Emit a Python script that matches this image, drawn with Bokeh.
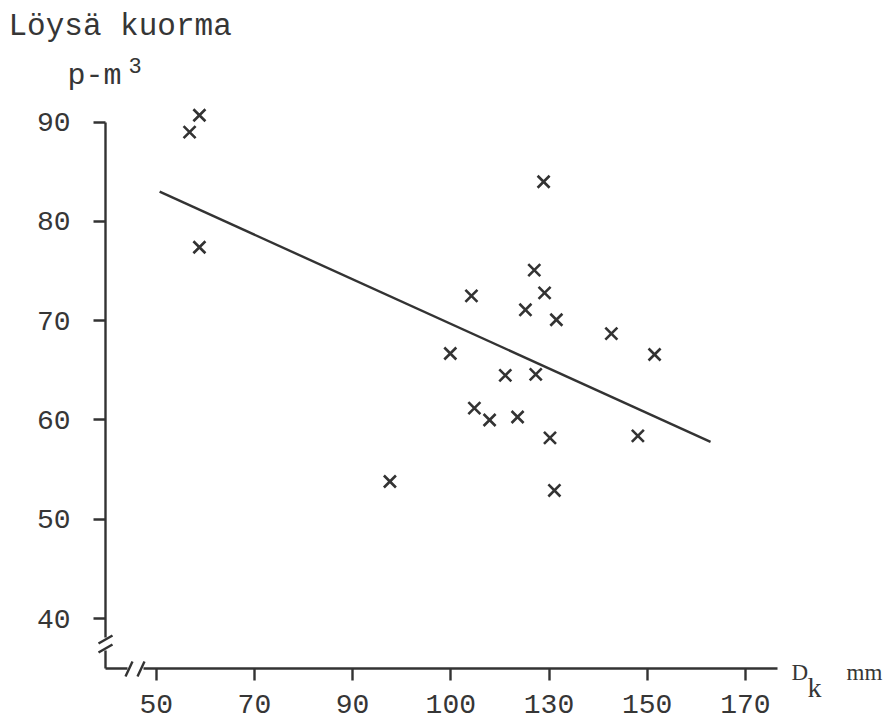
from bokeh.plotting import figure
from bokeh.models import Range1d, FixedTicker, Label
from bokeh.embed import file_html
from bokeh.resources import INLINE

# ---- data ----
d_k = [56.8, 58.8, 58.8, 97.6, 109.9, 114.2, 114.8, 117.9, 121.1, 123.6, 125.2,
       127.0, 127.3, 128.9, 129.1, 130.2, 131.1, 131.5, 142.7, 148.1, 151.5]
kuorma = [89.0, 90.7, 77.4, 53.8, 66.7, 72.5, 61.2, 60.0, 64.5, 60.3, 71.1,
          75.1, 64.6, 84.0, 72.8, 58.2, 52.9, 70.1, 68.7, 58.4, 66.6]
fit_x = [50.7, 162.9]
fit_y = [83.0, 57.8]
x_ticks = [50, 70, 90, 110, 130, 150, 170]
x_tick_labels = ["50", "70", "90", "100", "130", "150", "170"]
y_ticks = [40, 50, 60, 70, 80, 90]
y_tick_labels = ["40", "50", "60", "70", "80", "90"]

# ---- layout (canvas pixel <-> data) ----
W, H = 893, 721
PX50, PX_PER_X = 155.7, 4.91     # pixel of x=50, pixels per x unit
PY40, PY_PER_Y = 618.0, 9.926    # pixel of y=40, pixels per y unit
X0 = 50 - PX50 / PX_PER_X
X1 = X0 + W / PX_PER_X
Y0 = 40 - (H - PY40) / PY_PER_Y
Y1 = 40 + PY40 / PY_PER_Y
INK = "#333333"
TXT = "#363636"


def dx(px):
    return 50 + (px - PX50) / PX_PER_X


def dy(py):
    return 40 + (PY40 - py) / PY_PER_Y


AX_X = dx(105)   # location of the y axis
AX_Y = dy(668)   # location of the x axis

p = figure(width=W, height=H, output_backend="svg", toolbar_location=None,
           x_range=Range1d(X0, X1), y_range=Range1d(Y0, Y1),
           min_border=0, min_border_left=0, min_border_right=0,
           min_border_top=0, min_border_bottom=0)
p.title.visible = False
p.outline_line_color = None
p.grid.visible = False
p.background_fill_color = "white"
p.border_fill_color = "white"

for ax in (p.xaxis, p.yaxis):
    ax.axis_line_color = INK
    ax.axis_line_width = 2.4
    ax.major_tick_line_color = INK
    ax.major_tick_line_width = 2.4
    ax.major_tick_out = 12
    ax.major_tick_in = 0
    ax.minor_tick_line_color = None
    ax.major_label_text_font = "Liberation Mono"
    ax.major_label_text_font_size = "28px"
    ax.major_label_text_color = TXT

p.xaxis.fixed_location = AX_Y
p.xaxis.ticker = FixedTicker(ticks=x_ticks)
p.xaxis.major_label_overrides = {t: l for t, l in zip(x_ticks, x_tick_labels)}
p.xaxis.bounds = (dx(143), dx(777))
p.xaxis.major_label_standoff = 14

p.yaxis.fixed_location = AX_X
p.yaxis.ticker = FixedTicker(ticks=y_ticks)
p.yaxis.major_label_overrides = {t: l for t, l in zip(y_ticks, y_tick_labels)}
p.yaxis.bounds = (dy(637), 90)
p.yaxis.major_label_standoff = 23

# axis corner and break marks
brk = [
    (105, 668, 127, 668),
    (125, 676, 132, 661),
    (137, 676, 144, 661),
    (98, 643, 112, 635),
    (98, 652, 112, 644),
    (105, 650, 105, 668),
]
p.segment(x0=[dx(a) for a, b, c, d in brk], y0=[dy(b) for a, b, c, d in brk],
          x1=[dx(c) for a, b, c, d in brk], y1=[dy(d) for a, b, c, d in brk],
          line_color=INK, line_width=2.4)

# regression line and points
p.line(fit_x, fit_y, line_color=INK, line_width=2.4)
p.scatter(d_k, kuorma, marker="x", size=17, line_color=INK, line_width=2.6)


def lab(px, py, text, size, font="Liberation Mono"):
    p.add_layout(Label(x=dx(px), y=dy(py), text=text, text_font=font,
                       text_font_size=size, text_color=TXT,
                       text_baseline="alphabetic", text_align="left"))


lab(8, 26, "Löysä kuorma", "31px")
lab(67, 75, "p-m", "30px")
lab(128, 65, "3", "22px")
lab(791, 672, "D", "23px", "Liberation Serif")
lab(807, 687, "k", "28px", "Liberation Serif")
lab(846, 672, "mm", "23px", "Liberation Serif")

open("out.html", "w").write(file_html(p, INLINE))
